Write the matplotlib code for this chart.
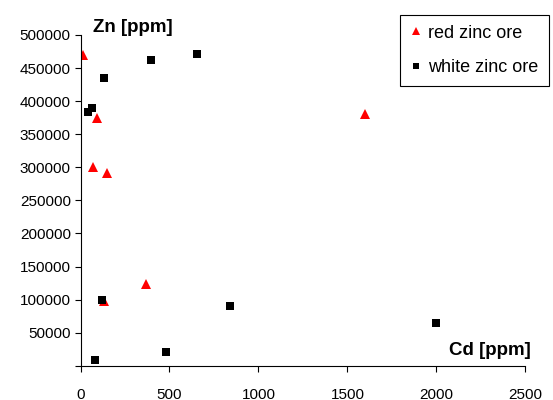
import numpy as np
from matplotlib import pyplot as plt

plt.rc('font', family='Liberation Sans', size=11)

# red zinc ore samples
red_cd = [15, 90, 70, 150, 1600, 370, 130]
red_zn = [470000, 375000, 300000, 292000, 380000, 124000, 98000]

# white zinc ore samples
white_cd = [130, 395, 655, 65, 40, 120, 80, 480, 840, 2000]
white_zn = [435000, 462000, 472000, 390000, 383000, 100000, 9000, 21000, 91000, 64000]

x_ticks = [0, 500, 1000, 1500, 2000, 2500]
y_ticks = list(range(0, 500001, 50000))
y_labels = [''] + [str(v) for v in y_ticks[1:]]

fig = plt.figure(figsize=(5.53, 4.0), dpi=100)
ax = fig.add_axes([0.1456, 0.0857, 0.8044, 0.8268])

ax.plot(red_cd, red_zn, linestyle='none', marker='^', color='red', markersize=6.8,
        markeredgewidth=0, label='red zinc ore')
ax.plot(white_cd, white_zn, linestyle='none', marker='s', color='black', markersize=5.5,
        markeredgewidth=0, label='white zinc ore')

ax.set_xlim(0, 2500)
ax.set_ylim(0, 500000)
ax.set_xticks(x_ticks)
ax.set_yticks(y_ticks)
ax.set_yticklabels(y_labels)
ax.tick_params(axis='x', direction='out', length=4, width=0.8, pad=12)
ax.tick_params(axis='y', direction='out', length=4, width=0.8, pad=3)
for s in ['top', 'right']:
    ax.spines[s].set_visible(False)
for s in ['left', 'bottom']:
    ax.spines[s].set_linewidth(0.8)

ax.text(0.028, 1.024, 'Zn [ppm]', transform=ax.transAxes, ha='left', va='center',
        fontweight='bold', fontsize=13.5)
ax.text(1.013, 0.047, 'Cd [ppm]', transform=ax.transAxes, ha='right', va='center',
        fontweight='bold', fontsize=13.5)

leg = ax.legend(loc='upper right', bbox_to_anchor=(0.992, 0.963), bbox_transform=fig.transFigure,
                borderaxespad=0, fancybox=False, edgecolor='black', framealpha=1,
                markerscale=0.9, handlelength=0.6, handletextpad=0.4, labelspacing=0.95,
                borderpad=0.55, fontsize=13)
leg.get_frame().set_linewidth(0.8)

plt.savefig('out.png', dpi=100)
